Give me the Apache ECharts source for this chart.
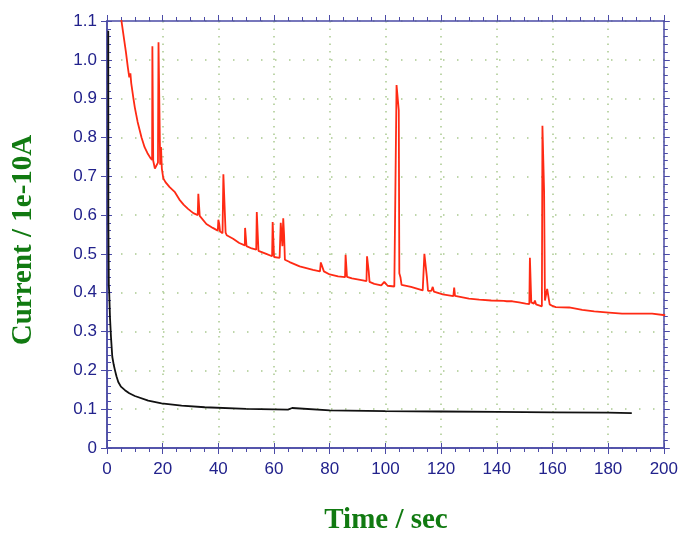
<!DOCTYPE html>
<html>
<head>
<meta charset="utf-8">
<script src="https://cdn.jsdelivr.net/npm/echarts@6/dist/echarts.min.js"></script>
<style>
html,body{margin:0;padding:0;background:#fff;}
#chart{width:681px;height:534px;}
</style>
</head>
<body>
<div id="chart"></div>
<script>
// ---- Data ----
var redTime = [4.8,5.4,6.0,6.8,7.5,8.0,8.4,8.7,9.5,10.0,11.0,12.4,13.5,14.5,15.5,16.2,16.3,16.5,16.6,17.2,17.9,18.3,18.5,18.9,19.1,19.4,19.7,20.2,21.0,22.5,24.4,26.0,27.5,29.1,31.0,32.6,32.8,33.1,33.3,35.7,38.0,39.8,40.0,40.3,40.6,41.5,41.8,42.3,42.6,43.0,45.3,47.5,49.5,49.6,49.9,50.1,52.0,53.6,53.8,54.2,54.4,57.2,59.3,59.5,59.8,60.0,62.0,62.4,62.8,63.0,63.3,63.6,63.9,65.6,69.2,74.0,76.5,76.8,77.5,77.9,80.0,83.0,85.5,85.7,86.0,86.2,88.0,91.9,93.2,93.4,93.8,94.0,94.3,96.0,98.5,99.2,99.6,100.2,100.8,103.2,103.8,104.0,104.5,104.8,105.0,105.4,105.8,109.2,113.4,113.8,114.0,114.6,114.9,115.3,116.5,117.0,117.4,120.6,124.4,124.7,125.0,130.0,133.7,138.0,142.5,143.0,143.6,145.6,148.0,150.4,151.7,151.9,152.2,152.4,153.3,153.7,154.1,156.2,156.4,156.8,157.0,157.3,157.8,158.1,158.6,159.0,160.0,161.2,166.0,170.7,175.0,180.3,185.0,190.0,195.8,200.5];
var redCurrent = [1.12,1.09,1.06,1.02,0.98,0.955,0.965,0.94,0.90,0.877,0.84,0.80,0.775,0.76,0.748,0.742,1.035,1.035,0.74,0.72,0.72,0.735,1.045,1.045,0.73,0.775,0.72,0.695,0.685,0.672,0.659,0.64,0.627,0.616,0.605,0.600,0.655,0.655,0.598,0.577,0.567,0.560,0.588,0.578,0.558,0.553,0.705,0.70,0.555,0.548,0.539,0.528,0.522,0.567,0.567,0.520,0.514,0.511,0.608,0.605,0.508,0.500,0.494,0.582,0.58,0.492,0.490,0.58,0.58,0.52,0.592,0.55,0.485,0.479,0.468,0.459,0.455,0.478,0.476,0.455,0.447,0.442,0.440,0.498,0.497,0.441,0.437,0.432,0.430,0.494,0.492,0.455,0.428,0.423,0.419,0.42,0.428,0.428,0.418,0.416,0.416,0.935,0.935,0.87,0.45,0.44,0.42,0.415,0.406,0.406,0.50,0.50,0.44,0.405,0.405,0.415,0.403,0.396,0.391,0.413,0.392,0.385,0.382,0.380,0.379,0.383,0.378,0.378,0.375,0.372,0.371,0.49,0.49,0.375,0.372,0.38,0.37,0.365,0.83,0.83,0.66,0.38,0.38,0.41,0.41,0.37,0.366,0.363,0.362,0.356,0.352,0.349,0.346,0.346,0.346,0.342];

var blackTime = [0.45,0.5,0.6,0.65,0.8,1.07,1.43,1.9,2.4,2.87,3.4,4.05,5.0,6.45,8.0,10.0,14.8,19.6,26.8,35.1,50,65,66.5,67,80,100,120,140,160,180,188.5];
var blackCurrent = [1.075,0.58,0.575,0.42,0.40,0.337,0.286,0.235,0.215,0.20,0.185,0.17,0.158,0.149,0.141,0.134,0.122,0.115,0.109,0.105,0.101,0.099,0.103,0.099,0.097,0.095,0.094,0.093,0.092,0.091,0.09];

var xMin = 0, xMax = 200, xStep = 20;
var yMin = 0, yMax = 1.1, yStep = 0.1;
var xTitle = 'Time / sec';
var yTitle = 'Current / 1e-10A';

function pairs(xs, ys){ var out=[]; for(var i=0;i<xs.length;i++) out.push([xs[i], ys[i]]); return out; }

var axisColor = '#4b4ba6';
var labelColor = '#22228c';
var gridColor = '#a9c98f';
var titleFont = '"Liberation Serif","Times New Roman",serif';
var titleColor = '#117a11';

function baseX(extra){
  return Object.assign({
    type:'value', min:xMin, max:xMax, interval:xStep,
    axisLine:{show:true, onZero:false, lineStyle:{color:axisColor, width:1.5}},
    axisLabel:{show:false},
    splitLine:{show:false},
    axisTick:{show:false},
    minorTick:{show:false}
  }, extra);
}
function baseY(extra){
  return Object.assign({
    type:'value', min:yMin, max:yMax, interval:yStep,
    axisLine:{show:true, onZero:false, lineStyle:{color:axisColor, width:1.5}},
    axisLabel:{show:false},
    splitLine:{show:false},
    axisTick:{show:false},
    minorTick:{show:false}
  }, extra);
}

var chart = echarts.init(document.getElementById('chart'), null, {renderer:'canvas'});
chart.setOption({
  backgroundColor:'#ffffff',
  animation:false,
  grid:{left:107, right:16, top:21, bottom:86, containLabel:false},
  graphic:[
    {type:'text', x:24, y:240, rotation:Math.PI/2,
      style:{text:yTitle, fill:titleColor, font:'bold 29px ' + titleFont, textAlign:'center', textVerticalAlign:'middle'}},
    {type:'text', x:386, y:521,
      style:{text:xTitle, fill:titleColor, font:'bold 29px ' + titleFont, textAlign:'center', textVerticalAlign:'middle'}}
  ],
  xAxis:[
    baseX({position:'bottom',
      axisLabel:{show:true, color:labelColor, fontSize:17, fontFamily:'"Liberation Sans",Arial,sans-serif', margin:13},
      axisTick:{show:true, inside:false, length:6, lineStyle:{color:axisColor}},
      minorTick:{show:true, splitNumber:4, length:4, lineStyle:{color:axisColor}},
      splitLine:{show:true, lineStyle:{color:gridColor, width:1.5, type:[1.5,6]}}
    }),
    baseX({position:'bottom', axisTick:{show:true, inside:true, length:5, lineStyle:{color:axisColor}}}),
    baseX({position:'top',
      axisTick:{show:true, inside:false, length:6, lineStyle:{color:axisColor}},
      minorTick:{show:true, splitNumber:4, length:4, lineStyle:{color:axisColor}}
    })
  ],
  yAxis:[
    baseY({position:'left',
      axisLabel:{show:true, color:labelColor, fontSize:17, fontFamily:'"Liberation Sans",Arial,sans-serif', margin:10,
        formatter:function(v){ return v===0 ? '0' : v.toFixed(1); }},
      axisTick:{show:true, inside:false, length:6, lineStyle:{color:axisColor}},
      splitLine:{show:true, lineStyle:{color:gridColor, width:1.5, type:[1.5,12.5]}}
    }),
    baseY({position:'left',
      axisTick:{show:true, inside:true, length:5, lineStyle:{color:axisColor}},
      minorTick:{show:true, splitNumber:5, length:4, lineStyle:{color:axisColor}}
    }),
    baseY({position:'right',
      axisTick:{show:true, inside:false, length:6, lineStyle:{color:axisColor}},
      minorTick:{show:true, splitNumber:5, length:4, lineStyle:{color:axisColor}}
    })
  ],
  series:[
    {type:'line', name:'red', xAxisIndex:0, yAxisIndex:0, data:pairs(redTime, redCurrent),
      showSymbol:false, symbol:'none', clip:true, lineStyle:{color:'#ff2a14', width:1.8}},
    {type:'line', name:'black', xAxisIndex:0, yAxisIndex:0, data:pairs(blackTime, blackCurrent),
      showSymbol:false, symbol:'none', clip:true, lineStyle:{color:'#111111', width:1.8}}
  ]
});
</script>
</body>
</html>
